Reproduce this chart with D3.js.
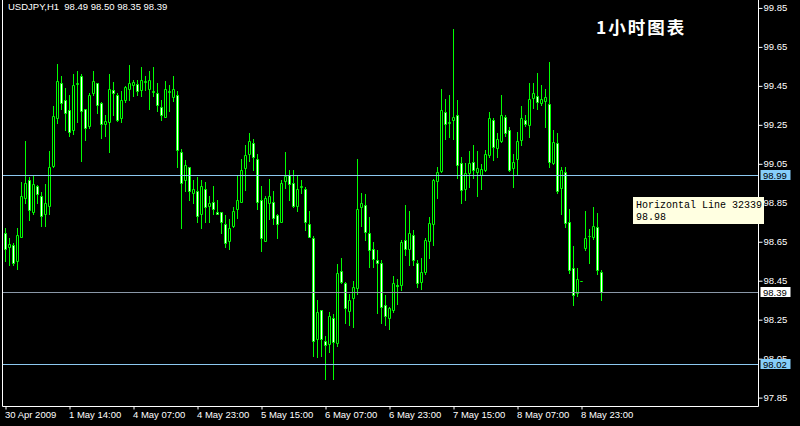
<!DOCTYPE html>
<html><head><meta charset="utf-8">
<script src="https://cdn.jsdelivr.net/npm/d3@7"></script>
<style>html,body{margin:0;padding:0;background:#000;}svg{display:block;}</style>
</head><body>
<svg id="c" width="800" height="426"></svg>
<script>
const opens = [98.69,98.62,98.63,98.55,98.67,98.87,98.965,98.80,98.935,98.88,98.79,98.83,99.035,99.28,99.46,99.375,99.325,99.22,99.455,99.50,
99.33,99.24,99.41,99.46,99.36,99.25,99.26,99.425,99.40,99.28,99.375,99.43,99.45,99.455,99.425,99.465,99.43,99.415,99.41,99.34,
99.29,99.415,99.39,99.40,99.11,98.965,99.03,98.90,98.91,98.79,98.92,98.83,98.85,98.80,98.80,98.74,98.65,98.73,98.815,98.85,
99.025,99.10,99.155,99.07,98.86,98.65,98.845,98.85,98.785,98.75,98.96,98.99,98.95,98.83,98.93,98.92,98.74,98.665,98.15,98.295,
98.14,98.125,98.255,98.13,98.495,98.435,98.29,98.36,98.41,98.825,98.835,98.69,98.61,98.555,98.54,98.325,98.255,98.295,98.425,98.425,
98.655,98.61,98.68,98.54,98.44,98.49,98.65,98.74,98.96,99.01,99.312,99.255,99.273,99.30,99.05,98.92,99.00,99.058,99.005,98.99,
99.016,99.093,99.272,99.13,99.165,99.29,99.221,99.024,99.07,99.17,99.272,99.245,99.387,99.397,99.36,99.37,99.353,99.05,99.153,98.922,
99.004,98.75,98.511,98.382,98.446,98.614,98.677,98.67,98.721,98.49];
const highs = [98.72,98.665,98.64,98.72,98.955,99.165,98.98,98.99,98.94,98.905,98.945,99.115,99.345,99.56,99.50,99.435,99.40,99.51,99.525,99.51,
99.33,99.41,99.525,99.46,99.365,99.30,99.51,99.465,99.41,99.42,99.445,99.555,99.48,99.48,99.545,99.50,99.525,99.545,99.46,99.375,
99.475,99.45,99.50,99.42,99.125,99.065,99.03,98.965,98.98,98.965,98.955,98.88,98.935,98.86,98.80,98.785,98.765,98.825,98.985,99.07,
99.145,99.205,99.175,99.10,98.935,98.88,98.97,98.91,98.79,98.965,99.11,99.015,99.015,98.985,98.965,98.93,98.805,98.675,98.35,98.295,
98.165,98.285,98.275,98.535,98.565,98.44,98.38,98.445,99.07,98.90,98.89,98.775,98.645,98.605,98.555,98.375,98.315,98.47,98.455,98.656,
98.836,98.807,98.71,98.553,98.562,98.665,98.776,98.968,99.033,99.432,99.38,99.40,99.738,99.375,99.084,99.05,99.113,99.142,99.113,99.046,
99.118,99.312,99.281,99.204,99.40,99.30,99.238,99.10,99.212,99.344,99.298,99.464,99.464,99.515,99.452,99.43,99.572,99.221,99.207,99.03,
99.033,98.814,98.625,98.511,98.446,98.805,98.711,98.824,98.796,98.50];
const lows = [98.55,98.53,98.53,98.51,98.67,98.845,98.76,98.79,98.845,98.73,98.73,98.79,99.03,99.255,99.33,99.22,99.19,99.20,99.26,99.06,
99.17,99.23,99.40,99.31,99.18,99.19,99.11,99.30,99.265,99.26,99.365,99.375,99.395,99.40,99.395,99.425,99.33,99.395,99.32,99.27,
99.29,99.32,99.37,99.03,98.72,98.91,98.86,98.845,98.75,98.72,98.75,98.75,98.79,98.79,98.69,98.62,98.61,98.725,98.77,98.85,
98.915,99.06,99.015,98.815,98.60,98.65,98.765,98.74,98.665,98.75,98.925,98.86,98.825,98.805,98.90,98.71,98.67,98.06,98.055,98.06,
97.945,98.08,97.945,98.11,98.435,98.23,98.22,98.21,98.38,98.73,98.655,98.52,98.52,98.283,98.23,98.22,98.20,98.285,98.33,98.40,
98.58,98.528,98.528,98.416,98.403,98.48,98.562,98.63,98.87,99.007,99.173,99.184,99.173,98.973,98.848,98.86,98.93,98.973,98.88,98.918,
99.012,99.08,99.067,99.08,99.16,99.19,99.012,98.93,98.99,99.144,99.242,99.184,99.333,99.327,99.35,99.238,99.033,99.046,98.90,98.79,
98.724,98.485,98.322,98.369,98.446,98.605,98.54,98.66,98.482,98.35];
const closes = [98.61,98.635,98.54,98.68,98.88,98.95,98.81,98.945,98.89,98.78,98.845,99.03,99.295,99.475,99.36,99.31,99.21,99.45,99.46,99.32,
99.23,99.40,99.475,99.35,99.25,99.265,99.43,99.41,99.27,99.375,99.44,99.46,99.465,99.42,99.48,99.47,99.48,99.42,99.35,99.30,
99.43,99.42,99.43,99.12,98.95,99.04,98.91,98.92,98.78,98.935,98.825,98.845,98.815,98.79,98.75,98.64,98.72,98.805,98.86,99.015,
99.095,99.165,99.08,98.85,98.665,98.87,98.88,98.77,98.74,98.95,98.985,98.945,98.83,98.92,98.935,98.75,98.67,98.14,98.285,98.15,
98.12,98.265,98.135,98.485,98.44,98.305,98.35,98.415,98.815,98.845,98.70,98.605,98.56,98.54,98.315,98.265,98.305,98.435,98.42,98.645,
98.61,98.69,98.555,98.434,98.493,98.656,98.742,98.964,99.004,99.324,99.252,99.26,99.29,99.04,98.913,99.002,99.05,99.016,99.024,99.02,
99.10,99.281,99.132,99.173,99.30,99.207,99.016,99.058,99.165,99.281,99.25,99.379,99.41,99.363,99.38,99.389,99.058,99.161,98.909,99.016,
98.742,98.502,98.374,98.454,98.446,98.665,98.675,98.73,98.502,98.39];

const yTickValues = [99.85,99.65,99.45,99.25,99.05,98.85,98.65,98.45,98.25,98.05,97.85];
const xTickIndex = [0,16,32,48,64,80,96,112,128,144];
const xTickLabels = ["30 Apr 2009","1 May 14:00","4 May 07:00","4 May 23:00","5 May 15:00","6 May 07:00","6 May 23:00","7 May 15:00","8 May 07:00","8 May 23:00"];
const hLineValues = [98.99, 98.39, 98.02];
const hLineKinds = ["user","bid","user"];
const titleText = "USDJPY,H1  98.49 98.50 98.35 98.39";
const noteText = "1小时图表";
const tipLines = ["Horizontal Line 32339", "98.98"];

const svg = d3.select("#c");
const font = "'Liberation Sans', Arial, sans-serif";
svg.append("rect").attr("width",800).attr("height",426).attr("fill","#000");

const x = d3.scaleLinear().domain([0, 149]).range([5.5, 601.5]);
const y = d3.scaleLinear().domain([98.02, 98.99]).range([364, 175]);

const plotL = 2.5, plotR = 758.5, plotB = 406.5;

// candles
const data = opens.map((o,i)=>({i,o,h:highs[i],l:lows[i],c:closes[i]}));
const g = svg.append("g");
g.selectAll("line.wick").data(data).join("line")
  .attr("x1",d=>x(d.i)).attr("x2",d=>x(d.i))
  .attr("y1",d=>Math.round(y(d.h)))
  .attr("y2",d=>Math.round(y(d.l))+1)
  .attr("stroke","#00ff00").attr("stroke-width",1);
g.selectAll("path.body").data(data).join("path")
  .attr("d",d=>{
    const t = Math.round(y(Math.max(d.o,d.c)))+0.5;
    const b = Math.round(y(Math.min(d.o,d.c)))+0.5;
    const xl = x(d.i)-1;
    return `M${xl},${t}h2V${b}h-2Z`;
  })
  .attr("fill",d=>d.c<d.o?"#ffffff":"#000000")
  .attr("stroke","#00ff00").attr("stroke-width",1);

// horizontal lines
const lineColor = k => k==="bid" ? "#8a98a8" : "#8cc8f0";
svg.selectAll("line.h").data(hLineValues).join("line")
  .attr("x1",plotL).attr("x2",plotR)
  .attr("y1",d=>Math.round(y(d))+0.5).attr("y2",d=>Math.round(y(d))+0.5)
  .attr("stroke",(d,i)=>lineColor(hLineKinds[i])).attr("stroke-width",1);

// frame
svg.append("path").attr("d",`M${plotL},0V${plotB}H${plotR}V0`).attr("fill","none").attr("stroke","#ffffff");

// y axis
const yAxis = d3.axisRight(y).tickValues(yTickValues).tickFormat(d3.format(".2f")).tickSize(4).tickPadding(1);
const ya = svg.append("g").attr("transform",`translate(${plotR},0.5)`).call(yAxis);
ya.select(".domain").remove();
ya.selectAll("line").attr("stroke","#fff");
ya.selectAll("text").attr("fill","#fff").attr("font-family",font).attr("font-size","9.5px");

// x axis
const xAxis = d3.axisBottom(x).tickValues(xTickIndex).tickFormat((d,i)=>xTickLabels[i]).tickSize(3).tickPadding(2);
const xa = svg.append("g").attr("transform",`translate(0,${plotB})`).call(xAxis);
xa.select(".domain").remove();
xa.selectAll("line").attr("stroke","#fff");
xa.selectAll("text").attr("fill","#fff").attr("font-family",font).attr("font-size","9.5px")
  .attr("text-anchor","start").attr("dx",-1);

// price labels on right
const lbl = svg.selectAll("g.pl").data(hLineValues).join("g")
  .attr("transform",d=>`translate(760,${Math.round(y(d))})`);
lbl.append("rect").attr("x",0.5).attr("y",-5).attr("width",30).attr("height",10)
  .attr("fill",(d,i)=>hLineKinds[i]==="bid"?"#ffffff":"#87cefa");
lbl.append("text").attr("x",3).attr("y",4).text(d=>d.toFixed(2))
  .attr("fill","#000").attr("font-family",font).attr("font-size","9.5px");

// title
svg.append("text").attr("x",8).attr("y",10).text(titleText)
  .attr("fill","#fff").attr("font-family",font).attr("font-size","9.5px").attr("xml:space","preserve").style("white-space","pre");
svg.append("text").attr("x",596).attr("y",34).text(noteText)
  .attr("fill","#fff").attr("font-family","'Noto Sans CJK SC', sans-serif").attr("font-size","17.5px")
  .attr("font-weight","bold").attr("letter-spacing","2px");

// tooltip
const tip = svg.append("g").attr("transform","translate(633,197)");
tip.append("rect").attr("width",131).attr("height",27).attr("fill","#ffffe1");
tip.selectAll("text").data(tipLines).join("text")
  .attr("x",3).attr("y",(d,i)=>11+i*12).text(d=>d)
  .attr("fill","#000").attr("font-family","'Liberation Mono', monospace").attr("font-size","10px");
</script>
</body></html>
